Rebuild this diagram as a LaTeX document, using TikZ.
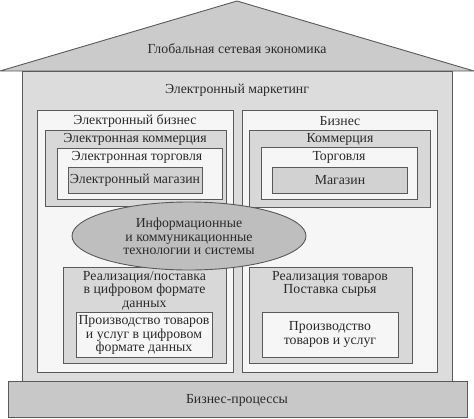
\documentclass[tikz,border=0pt]{standalone}
\usepackage{fontspec}
\setmainfont{Liberation Serif}
\usetikzlibrary{shapes.geometric}
\definecolor{ln}{HTML}{5A5A5A}
\definecolor{tx}{HTML}{2A2A2A}
\definecolor{roof}{HTML}{CBCBCB}
\definecolor{body}{HTML}{DCDCDC}
\definecolor{wht}{HTML}{F6F6F6}
\definecolor{mid}{HTML}{D8D8D8}
\definecolor{shop}{HTML}{D2D2D2}
\definecolor{ell}{HTML}{BEBEBE}
\definecolor{bar}{HTML}{C8C8C8}
\tikzset{
  frame/.style={draw=ln, line width=0.9pt},
  lbl/.style={text=tx, font=\fontsize{13.8}{13.6}\selectfont, inner sep=0pt, align=center},
}
\begin{document}
\begin{tikzpicture}[x=1pt,y=-1pt]
\useasboundingbox (0,0) rectangle (474,418);
% roof
\draw[frame, fill=roof] (0,71) -- (237,1) -- (474,71) -- cycle;
% body
\draw[frame, fill=body] (22,71) rectangle (452,381);
% bottom bar
\draw[frame, fill=bar] (8,381) rectangle (467,417.5);
\node[lbl] (global) at (237,49) {Глобальная сетевая экономика};
\node[lbl] (emkt) at (237,90) {Электронный маркетинг};
% left column
\draw[frame, fill=wht] (37,110) rectangle (233,372);
\node[lbl] (ebiz) at (135,121) {Электронный бизнес};
\draw[frame, fill=mid] (45,130) rectangle (226,206);
\node[lbl] (ecom) at (135,139) {Электронная коммерция};
\draw[frame, fill=wht] (57,148) rectangle (222,199);
\node[lbl] (etrade) at (137,157.5) {Электронная торговля};
\draw[frame, fill=shop] (68,167) rectangle (202,193);
\node[lbl] (eshop) at (135,180) {Электронный магазин};
% right column
\draw[frame, fill=wht] (242,110) rectangle (437,372);
\node[lbl] (biz) at (340,121) {Бизнес};
\draw[frame, fill=mid] (249,130) rectangle (430,207);
\node[lbl] (com) at (340,139) {Коммерция};
\draw[frame, fill=wht] (261,147) rectangle (417,199);
\node[lbl] (trade) at (339,157.5) {Торговля};
\draw[frame, fill=shop] (272,167) rectangle (407,193);
\node[lbl] (shop) at (340,180) {Магазин};
% bottom boxes
\draw[frame, fill=mid] (63,267) rectangle (226,363);
\node[lbl] (dsale) at (144.5,290.5) {Реализация/поставка\\в цифровом формате\\данных};
\draw[frame, fill=wht] (76,312) rectangle (212,357);
\node[lbl] (dprod) at (144,335) {Производство товаров\\и услуг в цифровом\\формате данных};
\draw[frame, fill=mid] (249,267) rectangle (412,363);
\node[lbl] (sale) at (330,284) {Реализация товаров\\Поставка сырья};
\draw[frame, fill=wht] (262,312) rectangle (398,357);
\node[lbl] (prod) at (330,334.5) {Производство\\товаров и услуг};
% ellipse
\draw[frame, fill=ell] (189,236) ellipse [x radius=117, y radius=34];
\node[lbl] (ict) at (189,236.5) {Информационные\\и коммуникационные\\технологии и системы};
\node[lbl] (bp) at (237,400) {Бизнес-процессы};
\end{tikzpicture}
\end{document}
